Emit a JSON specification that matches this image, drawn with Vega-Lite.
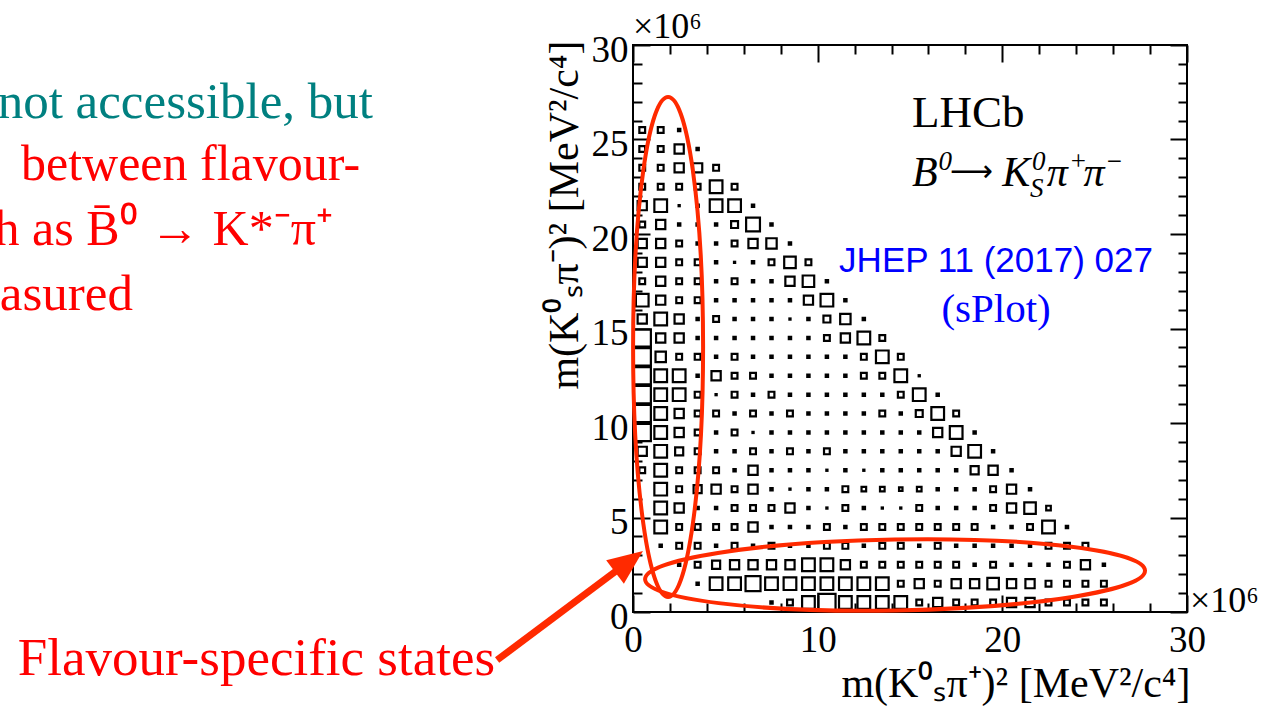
{
"$schema":"https://vega.github.io/schema/vega-lite/v6.json",
"width":554,"height":567,
"autosize":{"type":"none"},
"padding":{"left":633,"top":45,"right":89,"bottom":95},
"background":"white",
"datasets":{"bins":[
{"x":0.5,"y":25.5,"c":5},{"x":1.5,"y":25.5,"c":5},{"x":2.5,"y":25.5,"c":2},
{"x":0.5,"y":24.5,"c":5},{"x":1.5,"y":24.5,"c":5},{"x":2.5,"y":24.5,"c":8},{"x":3.5,"y":24.5,"c":2},
{"x":0.5,"y":23.5,"c":5},{"x":1.5,"y":23.5,"c":5},{"x":2.5,"y":23.5,"c":8},{"x":3.5,"y":23.5,"c":8},{"x":4.5,"y":23.5,"c":5},
{"x":0.5,"y":22.5,"c":5},{"x":1.5,"y":22.5,"c":5},{"x":2.5,"y":22.5,"c":5},{"x":3.5,"y":22.5,"c":5},{"x":4.5,"y":22.5,"c":11},{"x":5.5,"y":22.5,"c":5},
{"x":0.5,"y":21.5,"c":8},{"x":1.5,"y":21.5,"c":11},{"x":2.5,"y":21.5,"c":1},{"x":3.5,"y":21.5,"c":2},{"x":4.5,"y":21.5,"c":11},{"x":5.5,"y":21.5,"c":11},{"x":6.5,"y":21.5,"c":2},
{"x":0.5,"y":20.5,"c":5},{"x":1.5,"y":20.5,"c":8},{"x":2.5,"y":20.5,"c":2},{"x":3.5,"y":20.5,"c":2},{"x":4.5,"y":20.5,"c":2},{"x":5.5,"y":20.5,"c":6},{"x":6.5,"y":20.5,"c":12},{"x":7.5,"y":20.5,"c":2},
{"x":0.5,"y":19.5,"c":8},{"x":1.5,"y":19.5,"c":8},{"x":2.5,"y":19.5,"c":5},{"x":3.5,"y":19.5,"c":2},{"x":4.5,"y":19.5,"c":2},{"x":5.5,"y":19.5,"c":5},{"x":6.5,"y":19.5,"c":8},{"x":7.5,"y":19.5,"c":9},{"x":8.5,"y":19.5,"c":2},
{"x":0.5,"y":18.5,"c":8},{"x":1.5,"y":18.5,"c":8},{"x":2.5,"y":18.5,"c":5},{"x":3.5,"y":18.5,"c":5},{"x":4.5,"y":18.5,"c":2},{"x":5.5,"y":18.5,"c":1},{"x":6.5,"y":18.5,"c":2},{"x":7.5,"y":18.5,"c":5},{"x":8.5,"y":18.5,"c":10},{"x":9.5,"y":18.5,"c":5},
{"x":0.5,"y":17.5,"c":5},{"x":1.5,"y":17.5,"c":8},{"x":2.5,"y":17.5,"c":5},{"x":3.5,"y":17.5,"c":5},{"x":4.5,"y":17.5,"c":2},{"x":5.5,"y":17.5,"c":5},{"x":6.5,"y":17.5,"c":2},{"x":7.5,"y":17.5,"c":2},{"x":8.5,"y":17.5,"c":8},{"x":9.5,"y":17.5,"c":10},{"x":10.5,"y":17.5,"c":2},
{"x":0.5,"y":16.5,"c":11},{"x":1.5,"y":16.5,"c":8},{"x":2.5,"y":16.5,"c":5},{"x":3.5,"y":16.5,"c":5},{"x":4.5,"y":16.5,"c":2},{"x":5.5,"y":16.5,"c":2},{"x":6.5,"y":16.5,"c":2},{"x":7.5,"y":16.5,"c":2},{"x":8.5,"y":16.5,"c":2},{"x":9.5,"y":16.5,"c":8},{"x":10.5,"y":16.5,"c":11},{"x":11.5,"y":16.5,"c":2},
{"x":0.5,"y":15.5,"c":8},{"x":1.5,"y":15.5,"c":11},{"x":2.5,"y":15.5,"c":8},{"x":3.5,"y":15.5,"c":2},{"x":4.5,"y":15.5,"c":5},{"x":5.5,"y":15.5,"c":2},{"x":6.5,"y":15.5,"c":2},{"x":7.5,"y":15.5,"c":2},{"x":8.5,"y":15.5,"c":1},{"x":9.5,"y":15.5,"c":2},{"x":10.5,"y":15.5,"c":6},{"x":11.5,"y":15.5,"c":9},{"x":12.5,"y":15.5,"c":2},
{"x":0.5,"y":14.5,"c":15},{"x":1.5,"y":14.5,"c":8},{"x":2.5,"y":14.5,"c":8},{"x":3.5,"y":14.5,"c":2},{"x":4.5,"y":14.5,"c":2},{"x":5.5,"y":14.5,"c":2},{"x":6.5,"y":14.5,"c":2},{"x":7.5,"y":14.5,"c":2},{"x":8.5,"y":14.5,"c":2},{"x":9.5,"y":14.5,"c":2},{"x":10.5,"y":14.5,"c":5},{"x":11.5,"y":14.5,"c":8},{"x":12.5,"y":14.5,"c":11},{"x":13.5,"y":14.5,"c":5},
{"x":0.5,"y":13.5,"c":15},{"x":1.5,"y":13.5,"c":9},{"x":2.5,"y":13.5,"c":5},{"x":3.5,"y":13.5,"c":5},{"x":4.5,"y":13.5,"c":2},{"x":5.5,"y":13.5,"c":5},{"x":6.5,"y":13.5,"c":2},{"x":7.5,"y":13.5,"c":2},{"x":8.5,"y":13.5,"c":2},{"x":9.5,"y":13.5,"c":2},{"x":10.5,"y":13.5,"c":2},{"x":11.5,"y":13.5,"c":2},{"x":12.5,"y":13.5,"c":5},{"x":13.5,"y":13.5,"c":11},{"x":14.5,"y":13.5,"c":5},
{"x":0.5,"y":12.5,"c":15},{"x":1.5,"y":12.5,"c":11},{"x":2.5,"y":12.5,"c":11},{"x":3.5,"y":12.5,"c":2},{"x":4.5,"y":12.5,"c":8},{"x":5.5,"y":12.5,"c":5},{"x":6.5,"y":12.5,"c":5},{"x":7.5,"y":12.5,"c":2},{"x":8.5,"y":12.5,"c":2},{"x":9.5,"y":12.5,"c":2},{"x":10.5,"y":12.5,"c":2},{"x":11.5,"y":12.5,"c":2},{"x":12.5,"y":12.5,"c":5},{"x":13.5,"y":12.5,"c":5},{"x":14.5,"y":12.5,"c":11},{"x":15.5,"y":12.5,"c":1},
{"x":0.5,"y":11.5,"c":15},{"x":1.5,"y":11.5,"c":11},{"x":2.5,"y":11.5,"c":11},{"x":3.5,"y":11.5,"c":5},{"x":4.5,"y":11.5,"c":1},{"x":5.5,"y":11.5,"c":5},{"x":6.5,"y":11.5,"c":2},{"x":7.5,"y":11.5,"c":5},{"x":8.5,"y":11.5,"c":2},{"x":9.5,"y":11.5,"c":2},{"x":10.5,"y":11.5,"c":2},{"x":11.5,"y":11.5,"c":2},{"x":12.5,"y":11.5,"c":2},{"x":13.5,"y":11.5,"c":2},{"x":14.5,"y":11.5,"c":5},{"x":15.5,"y":11.5,"c":11},{"x":16.5,"y":11.5,"c":2},
{"x":0.5,"y":10.5,"c":15},{"x":1.5,"y":10.5,"c":11},{"x":2.5,"y":10.5,"c":8},{"x":3.5,"y":10.5,"c":5},{"x":4.5,"y":10.5,"c":5},{"x":5.5,"y":10.5,"c":2},{"x":6.5,"y":10.5,"c":5},{"x":7.5,"y":10.5,"c":2},{"x":8.5,"y":10.5,"c":5},{"x":9.5,"y":10.5,"c":2},{"x":10.5,"y":10.5,"c":2},{"x":11.5,"y":10.5,"c":2},{"x":12.5,"y":10.5,"c":2},{"x":13.5,"y":10.5,"c":5},{"x":14.5,"y":10.5,"c":2},{"x":15.5,"y":10.5,"c":6},{"x":16.5,"y":10.5,"c":11},{"x":17.5,"y":10.5,"c":5},
{"x":0.5,"y":9.5,"c":15},{"x":1.5,"y":9.5,"c":11},{"x":2.5,"y":9.5,"c":8},{"x":3.5,"y":9.5,"c":5},{"x":4.5,"y":9.5,"c":2},{"x":5.5,"y":9.5,"c":5},{"x":6.5,"y":9.5,"c":1},{"x":7.5,"y":9.5,"c":2},{"x":8.5,"y":9.5,"c":2},{"x":9.5,"y":9.5,"c":2},{"x":10.5,"y":9.5,"c":2},{"x":11.5,"y":9.5,"c":2},{"x":12.5,"y":9.5,"c":2},{"x":13.5,"y":9.5,"c":2},{"x":14.5,"y":9.5,"c":2},{"x":15.5,"y":9.5,"c":2},{"x":16.5,"y":9.5,"c":8},{"x":17.5,"y":9.5,"c":11},{"x":18.5,"y":9.5,"c":2},
{"x":0.5,"y":8.5,"c":8},{"x":1.5,"y":8.5,"c":11},{"x":2.5,"y":8.5,"c":7},{"x":3.5,"y":8.5,"c":5},{"x":4.5,"y":8.5,"c":2},{"x":5.5,"y":8.5,"c":2},{"x":6.5,"y":8.5,"c":5},{"x":7.5,"y":8.5,"c":2},{"x":8.5,"y":8.5,"c":5},{"x":9.5,"y":8.5,"c":2},{"x":10.5,"y":8.5,"c":5},{"x":11.5,"y":8.5,"c":2},{"x":12.5,"y":8.5,"c":2},{"x":13.5,"y":8.5,"c":2},{"x":14.5,"y":8.5,"c":2},{"x":15.5,"y":8.5,"c":2},{"x":16.5,"y":8.5,"c":2},{"x":17.5,"y":8.5,"c":8},{"x":18.5,"y":8.5,"c":11},{"x":19.5,"y":8.5,"c":2},
{"x":0.5,"y":7.5,"c":5},{"x":1.5,"y":7.5,"c":11},{"x":2.5,"y":7.5,"c":5},{"x":3.5,"y":7.5,"c":5},{"x":4.5,"y":7.5,"c":5},{"x":5.5,"y":7.5,"c":2},{"x":6.5,"y":7.5,"c":8},{"x":7.5,"y":7.5,"c":2},{"x":8.5,"y":7.5,"c":2},{"x":9.5,"y":7.5,"c":2},{"x":10.5,"y":7.5,"c":1},{"x":11.5,"y":7.5,"c":2},{"x":12.5,"y":7.5,"c":1},{"x":13.5,"y":7.5,"c":2},{"x":14.5,"y":7.5,"c":2},{"x":15.5,"y":7.5,"c":2},{"x":16.5,"y":7.5,"c":2},{"x":17.5,"y":7.5,"c":2},{"x":18.5,"y":7.5,"c":7},{"x":19.5,"y":7.5,"c":8},{"x":20.5,"y":7.5,"c":2},
{"x":1.5,"y":6.5,"c":11},{"x":2.5,"y":6.5,"c":5},{"x":3.5,"y":6.5,"c":7},{"x":4.5,"y":6.5,"c":8},{"x":5.5,"y":6.5,"c":5},{"x":6.5,"y":6.5,"c":8},{"x":7.5,"y":6.5,"c":2},{"x":8.5,"y":6.5,"c":1},{"x":9.5,"y":6.5,"c":2},{"x":10.5,"y":6.5,"c":2},{"x":11.5,"y":6.5,"c":5},{"x":12.5,"y":6.5,"c":4},{"x":13.5,"y":6.5,"c":4},{"x":14.5,"y":6.5,"c":3},{"x":15.5,"y":6.5,"c":4},{"x":16.5,"y":6.5,"c":2},{"x":17.5,"y":6.5,"c":2},{"x":18.5,"y":6.5,"c":2},{"x":19.5,"y":6.5,"c":5},{"x":20.5,"y":6.5,"c":8},{"x":21.5,"y":6.5,"c":2},
{"x":1.5,"y":5.5,"c":11},{"x":2.5,"y":5.5,"c":8},{"x":3.5,"y":5.5,"c":2},{"x":4.5,"y":5.5,"c":2},{"x":5.5,"y":5.5,"c":5},{"x":6.5,"y":5.5,"c":5},{"x":7.5,"y":5.5,"c":5},{"x":8.5,"y":5.5,"c":8},{"x":9.5,"y":5.5,"c":2},{"x":10.5,"y":5.5,"c":1},{"x":11.5,"y":5.5,"c":5},{"x":12.5,"y":5.5,"c":2},{"x":13.5,"y":5.5,"c":1},{"x":14.5,"y":5.5,"c":1},{"x":15.5,"y":5.5,"c":5},{"x":16.5,"y":5.5,"c":2},{"x":17.5,"y":5.5,"c":2},{"x":18.5,"y":5.5,"c":2},{"x":19.5,"y":5.5,"c":5},{"x":20.5,"y":5.5,"c":8},{"x":21.5,"y":5.5,"c":10},{"x":22.5,"y":5.5,"c":4},
{"x":1.5,"y":4.5,"c":11},{"x":2.5,"y":4.5,"c":5},{"x":3.5,"y":4.5,"c":5},{"x":4.5,"y":4.5,"c":5},{"x":5.5,"y":4.5,"c":5},{"x":6.5,"y":4.5,"c":8},{"x":7.5,"y":4.5,"c":2},{"x":8.5,"y":4.5,"c":2},{"x":9.5,"y":4.5,"c":2},{"x":10.5,"y":4.5,"c":5},{"x":11.5,"y":4.5,"c":2},{"x":12.5,"y":4.5,"c":5},{"x":13.5,"y":4.5,"c":5},{"x":14.5,"y":4.5,"c":5},{"x":15.5,"y":4.5,"c":5},{"x":16.5,"y":4.5,"c":5},{"x":17.5,"y":4.5,"c":5},{"x":18.5,"y":4.5,"c":5},{"x":19.5,"y":4.5,"c":2},{"x":20.5,"y":4.5,"c":2},{"x":21.5,"y":4.5,"c":5},{"x":22.5,"y":4.5,"c":11},{"x":23.5,"y":4.5,"c":2},
{"x":1.5,"y":3.5,"c":2},{"x":2.5,"y":3.5,"c":5},{"x":3.5,"y":3.5,"c":5},{"x":4.5,"y":3.5,"c":2},{"x":5.5,"y":3.5,"c":5},{"x":6.5,"y":3.5,"c":2},{"x":7.5,"y":3.5,"c":5},{"x":8.5,"y":3.5,"c":2},{"x":9.5,"y":3.5,"c":2},{"x":10.5,"y":3.5,"c":5},{"x":11.5,"y":3.5,"c":5},{"x":12.5,"y":3.5,"c":2},{"x":13.5,"y":3.5,"c":5},{"x":14.5,"y":3.5,"c":5},{"x":15.5,"y":3.5,"c":2},{"x":16.5,"y":3.5,"c":5},{"x":17.5,"y":3.5,"c":2},{"x":18.5,"y":3.5,"c":2},{"x":19.5,"y":3.5,"c":2},{"x":20.5,"y":3.5,"c":2},{"x":21.5,"y":3.5,"c":2},{"x":22.5,"y":3.5,"c":5},{"x":23.5,"y":3.5,"c":5},{"x":24.5,"y":3.5,"c":5},
{"x":2.5,"y":2.5,"c":2},{"x":3.5,"y":2.5,"c":5},{"x":4.5,"y":2.5,"c":7},{"x":5.5,"y":2.5,"c":8},{"x":6.5,"y":2.5,"c":8},{"x":7.5,"y":2.5,"c":8},{"x":8.5,"y":2.5,"c":8},{"x":9.5,"y":2.5,"c":11},{"x":10.5,"y":2.5,"c":11},{"x":11.5,"y":2.5,"c":8},{"x":12.5,"y":2.5,"c":5},{"x":13.5,"y":2.5,"c":5},{"x":14.5,"y":2.5,"c":5},{"x":15.5,"y":2.5,"c":5},{"x":16.5,"y":2.5,"c":5},{"x":17.5,"y":2.5,"c":5},{"x":18.5,"y":2.5,"c":2},{"x":19.5,"y":2.5,"c":5},{"x":20.5,"y":2.5,"c":2},{"x":21.5,"y":2.5,"c":2},{"x":22.5,"y":2.5,"c":2},{"x":23.5,"y":2.5,"c":5},{"x":24.5,"y":2.5,"c":8},{"x":25.5,"y":2.5,"c":2},
{"x":3.5,"y":1.5,"c":2},{"x":4.5,"y":1.5,"c":11},{"x":5.5,"y":1.5,"c":11},{"x":6.5,"y":1.5,"c":13},{"x":7.5,"y":1.5,"c":11},{"x":8.5,"y":1.5,"c":11},{"x":9.5,"y":1.5,"c":11},{"x":10.5,"y":1.5,"c":11},{"x":11.5,"y":1.5,"c":11},{"x":12.5,"y":1.5,"c":11},{"x":13.5,"y":1.5,"c":11},{"x":14.5,"y":1.5,"c":5},{"x":15.5,"y":1.5,"c":8},{"x":16.5,"y":1.5,"c":5},{"x":17.5,"y":1.5,"c":8},{"x":18.5,"y":1.5,"c":8},{"x":19.5,"y":1.5,"c":10},{"x":20.5,"y":1.5,"c":8},{"x":21.5,"y":1.5,"c":8},{"x":22.5,"y":1.5,"c":5},{"x":23.5,"y":1.5,"c":5},{"x":24.5,"y":1.5,"c":5},{"x":25.5,"y":1.5,"c":5},
{"x":7.5,"y":0.5,"c":2},{"x":8.5,"y":0.5,"c":5},{"x":9.5,"y":0.5,"c":11},{"x":10.5,"y":0.5,"c":15},{"x":11.5,"y":0.5,"c":11},{"x":12.5,"y":0.5,"c":11},{"x":13.5,"y":0.5,"c":11},{"x":14.5,"y":0.5,"c":11},{"x":15.5,"y":0.5,"c":5},{"x":16.5,"y":0.5,"c":8},{"x":17.5,"y":0.5,"c":5},{"x":18.5,"y":0.5,"c":5},{"x":19.5,"y":0.5,"c":5},{"x":20.5,"y":0.5,"c":8},{"x":21.5,"y":0.5,"c":8},{"x":22.5,"y":0.5,"c":5},{"x":23.5,"y":0.5,"c":5},{"x":24.5,"y":0.5,"c":5},{"x":25.5,"y":0.5,"c":5}
]},
"layer":[
{"data":{"name":"bins"},
 "mark":{"type":"square","filled":false,"stroke":"black","strokeWidth":2.2,"opacity":1},
 "encoding":{
  "x":{"field":"x","type":"quantitative","scale":{"domain":[0,30],"nice":false,"zero":false},
   "axis":{"orient":"bottom","values":[0,2,4,6,8,10,12,14,16,18,20,22,24,26,28,30],
    "labelExpr":"datum.value % 10 === 0 ? datum.label : ''",
    "tickSize":-17,
    "tickDash":{"condition":{"test":"datum.value % 10 !== 0","value":[9,60]},"value":[]},
    "tickColor":"black","tickWidth":2,"domain":false,"grid":false,
    "labelFont":"Liberation Serif","labelFontSize":37,"labelColor":"black","labelPadding":27,
    "labelFlush":false,"labelOverlap":false,"labelBound":false,
    "title":"m(K⁰ₛπ⁺)² [MeV²/c⁴]","titleFont":"Liberation Serif","titleFontSize":42,"titleFontWeight":"normal","titleColor":"black",
    "titleAnchor":"end","titleAlign":"right","titleBaseline":"alphabetic","titleX":557,"titleY":84}},
  "y":{"field":"y","type":"quantitative","scale":{"domain":[0,30],"nice":false,"zero":false},
   "axis":{"orient":"left","values":[0,1,2,3,4,5,6,7,8,9,10,11,12,13,14,15,16,17,18,19,20,21,22,23,24,25,26,27,28,29,30],
    "labelExpr":"datum.value % 5 === 0 ? datum.label : ''",
    "tickSize":-17,
    "tickDash":{"condition":{"test":"datum.value % 5 !== 0","value":[9,60]},"value":[]},
    "tickColor":"black","tickWidth":2,"domain":false,"grid":false,
    "labelFont":"Liberation Serif","labelFontSize":37,"labelColor":"black","labelPadding":22,"labelOffset":5,
    "labelFlush":false,"labelOverlap":false,"labelBound":false,
    "title":"m(K⁰ₛπ⁻)² [MeV²/c⁴]","titleFont":"Liberation Serif","titleFontSize":42,"titleFontWeight":"normal","titleColor":"black",
    "titleAngle":-90,"titleAlign":"right","titleBaseline":"alphabetic","titleX":-56,"titleY":-5}},
  "size":{"field":"c","type":"quantitative","scale":{"type":"pow","exponent":2,"domain":[0,16],"range":[0,340]},"legend":null}
 }},
{"data":{"name":"bins"},
 "mark":{"type":"point","opacity":0},
 "encoding":{
  "x":{"field":"x","type":"quantitative",
   "axis":{"orient":"top","values":[0,2,4,6,8,10,12,14,16,18,20,22,24,26,28,30],"labels":false,"title":null,
    "tickSize":-17,
    "tickDash":{"condition":{"test":"datum.value % 10 !== 0","value":[9,60]},"value":[]},
    "tickColor":"black","tickWidth":2,"domain":false,"grid":false}},
  "y":{"field":"y","type":"quantitative",
   "axis":{"orient":"right","values":[0,1,2,3,4,5,6,7,8,9,10,11,12,13,14,15,16,17,18,19,20,21,22,23,24,25,26,27,28,29,30],"labels":false,"title":null,
    "tickSize":-17,
    "tickDash":{"condition":{"test":"datum.value % 5 !== 0","value":[9,60]},"value":[]},
    "tickColor":"black","tickWidth":2,"domain":false,"grid":false}}
 }},
{"data":{"values":[{}]},
 "mark":{"type":"point","shape":"M 0.14 0 C 0.14 0.5523 0.0773 1 0 1 C -0.0773 1 -0.14 0.5523 -0.14 0 C -0.14 -0.5523 -0.0773 -1 0 -1 C 0.0773 -1 0.14 -0.5523 0.14 0 Z","size":250000,"filled":false,"stroke":"#ff2a00","strokeWidth":4,"opacity":1},
 "encoding":{"x":{"datum":1.9,"type":"quantitative","axis":null},"y":{"datum":14.02,"type":"quantitative","axis":null}}},
{"data":{"values":[{}]},
 "mark":{"type":"point","shape":"M 1 0 C 1 0.0784 0.5523 0.142 0 0.142 C -0.5523 0.142 -1 0.0784 -1 0 C -1 -0.0784 -0.5523 -0.142 0 -0.142 C 0.5523 -0.142 1 -0.0784 1 0 Z","size":250000,"angle":-1,"filled":false,"stroke":"#ff2a00","strokeWidth":4,"opacity":1},
 "encoding":{"x":{"datum":14.19,"type":"quantitative","axis":null},"y":{"datum":1.96,"type":"quantitative","axis":null}}},
{"data":{"values":[{}]},
 "mark":{"type":"rule","stroke":"#ff2a00","strokeWidth":7},
 "encoding":{"x":{"datum":-7.36,"type":"quantitative","axis":null},"y":{"datum":-2.54,"type":"quantitative","axis":null},
  "x2":{"datum":-0.7},"y2":{"datum":2.33}}},
{"data":{"values":[{}]},
 "mark":{"type":"point","shape":"M 0 0 L 0.42 1 L -0.42 1 Z","size":4900,"angle":53,"filled":true,"fill":"#ff2a00","strokeWidth":0,"opacity":1},
 "encoding":{"x":{"datum":0.54,"type":"quantitative","axis":null},"y":{"datum":3.23,"type":"quantitative","axis":null}}},
{"data":{"values":[{}]},
 "mark":{"type":"text","text":"LHCb","font":"Liberation Serif","fontSize":45,"align":"left","baseline":"alphabetic","color":"black"},
 "encoding":{"x":{"datum":15.11,"type":"quantitative","axis":null},"y":{"datum":25.66,"type":"quantitative","axis":null}}},
{"data":{"values":[{}]},
 "mark":{"type":"text","text":"B","font":"Liberation Serif","fontStyle":"italic","fontSize":42,"align":"left","baseline":"alphabetic","color":"black"},
 "encoding":{"x":{"datum":15.11,"type":"quantitative","axis":null},"y":{"datum":22.54,"type":"quantitative","axis":null}}},
{"data":{"values":[{}]},
 "mark":{"type":"text","text":"0","font":"Liberation Serif","fontStyle":"italic","fontSize":27,"align":"left","baseline":"alphabetic","color":"black"},
 "encoding":{"x":{"datum":16.55,"type":"quantitative","axis":null},"y":{"datum":23.4,"type":"quantitative","axis":null}}},
{"data":{"values":[{}]},
 "mark":{"type":"text","text":"⟶","font":"DejaVu Sans","fontSize":30,"align":"left","baseline":"alphabetic","color":"black"},
 "encoding":{"x":{"datum":17.15,"type":"quantitative","axis":null},"y":{"datum":22.8,"type":"quantitative","axis":null}}},
{"data":{"values":[{}]},
 "mark":{"type":"text","text":"K","font":"Liberation Serif","fontStyle":"italic","fontSize":42,"align":"left","baseline":"alphabetic","color":"black"},
 "encoding":{"x":{"datum":20.0,"type":"quantitative","axis":null},"y":{"datum":22.54,"type":"quantitative","axis":null}}},
{"data":{"values":[{}]},
 "mark":{"type":"text","text":"0","font":"Liberation Serif","fontStyle":"italic","fontSize":27,"align":"left","baseline":"alphabetic","color":"black"},
 "encoding":{"x":{"datum":21.6,"type":"quantitative","axis":null},"y":{"datum":23.4,"type":"quantitative","axis":null}}},
{"data":{"values":[{}]},
 "mark":{"type":"text","text":"S","font":"Liberation Serif","fontStyle":"italic","fontSize":27,"align":"left","baseline":"alphabetic","color":"black"},
 "encoding":{"x":{"datum":21.5,"type":"quantitative","axis":null},"y":{"datum":21.98,"type":"quantitative","axis":null}}},
{"data":{"values":[{}]},
 "mark":{"type":"text","text":"π","font":"Liberation Serif","fontStyle":"italic","fontSize":42,"align":"left","baseline":"alphabetic","color":"black"},
 "encoding":{"x":{"datum":22.4,"type":"quantitative","axis":null},"y":{"datum":22.54,"type":"quantitative","axis":null}}},
{"data":{"values":[{}]},
 "mark":{"type":"text","text":"+","font":"Liberation Serif","fontSize":27,"align":"left","baseline":"alphabetic","color":"black"},
 "encoding":{"x":{"datum":23.7,"type":"quantitative","axis":null},"y":{"datum":23.4,"type":"quantitative","axis":null}}},
{"data":{"values":[{}]},
 "mark":{"type":"text","text":"π","font":"Liberation Serif","fontStyle":"italic","fontSize":42,"align":"left","baseline":"alphabetic","color":"black"},
 "encoding":{"x":{"datum":24.4,"type":"quantitative","axis":null},"y":{"datum":22.54,"type":"quantitative","axis":null}}},
{"data":{"values":[{}]},
 "mark":{"type":"text","text":"−","font":"Liberation Serif","fontSize":27,"align":"left","baseline":"alphabetic","color":"black"},
 "encoding":{"x":{"datum":25.65,"type":"quantitative","axis":null},"y":{"datum":23.4,"type":"quantitative","axis":null}}},
{"data":{"values":[{}]},
 "mark":{"type":"text","text":"JHEP 11 (2017) 027","font":"Liberation Sans","fontSize":35,"align":"center","baseline":"alphabetic","color":"#0000ff"},
 "encoding":{"x":{"datum":19.66,"type":"quantitative","axis":null},"y":{"datum":18.0,"type":"quantitative","axis":null}}},
{"data":{"values":[{}]},
 "mark":{"type":"text","text":"(sPlot)","font":"Liberation Serif","fontSize":41,"align":"center","baseline":"alphabetic","color":"#0000ff"},
 "encoding":{"x":{"datum":19.66,"type":"quantitative","axis":null},"y":{"datum":15.34,"type":"quantitative","axis":null}}},
{"data":{"values":[{}]},
 "mark":{"type":"text","text":"×10⁶","font":"Liberation Serif","fontSize":36,"align":"left","baseline":"alphabetic","color":"black"},
 "encoding":{"x":{"datum":0,"type":"quantitative","axis":null},"y":{"datum":30.37,"type":"quantitative","axis":null}}},
{"data":{"values":[{}]},
 "mark":{"type":"text","text":"×10⁶","font":"Liberation Serif","fontSize":36,"align":"left","baseline":"alphabetic","color":"black"},
 "encoding":{"x":{"datum":30.16,"type":"quantitative","axis":null},"y":{"datum":0,"type":"quantitative","axis":null}}},
{"data":{"values":[{}]},
 "mark":{"type":"text","text":"not accessible, but","font":"Liberation Serif","fontSize":51,"align":"right","baseline":"alphabetic","color":"#008080"},
 "encoding":{"x":{"datum":-14.08,"type":"quantitative","axis":null},"y":{"datum":26.14,"type":"quantitative","axis":null}}},
{"data":{"values":[{}]},
 "mark":{"type":"text","text":"between flavour-","font":"Liberation Serif","fontSize":50,"align":"right","baseline":"alphabetic","color":"#ff0000"},
 "encoding":{"x":{"datum":-14.78,"type":"quantitative","axis":null},"y":{"datum":22.86,"type":"quantitative","axis":null}}},
{"data":{"values":[{}]},
 "mark":{"type":"text","text":"such as B̄⁰ → K*⁻π⁺","font":"Liberation Serif","fontSize":50,"align":"right","baseline":"alphabetic","color":"#ff0000"},
 "encoding":{"x":{"datum":-16.25,"type":"quantitative","axis":null},"y":{"datum":19.42,"type":"quantitative","axis":null}}},
{"data":{"values":[{}]},
 "mark":{"type":"text","text":"measured","font":"Liberation Serif","fontSize":51,"align":"right","baseline":"alphabetic","color":"#ff0000"},
 "encoding":{"x":{"datum":-27.08,"type":"quantitative","axis":null},"y":{"datum":15.98,"type":"quantitative","axis":null}}},
{"data":{"values":[{}]},
 "mark":{"type":"text","text":"Flavour-specific states","font":"Liberation Serif","fontSize":53,"align":"right","baseline":"alphabetic","color":"#ff0000"},
 "encoding":{"x":{"datum":-7.47,"type":"quantitative","axis":null},"y":{"datum":-3.33,"type":"quantitative","axis":null}}}
],
"resolve":{"axis":{"x":"independent","y":"independent"}},
"config":{"view":{"stroke":"black","strokeWidth":2},"font":"Liberation Serif"}
}
